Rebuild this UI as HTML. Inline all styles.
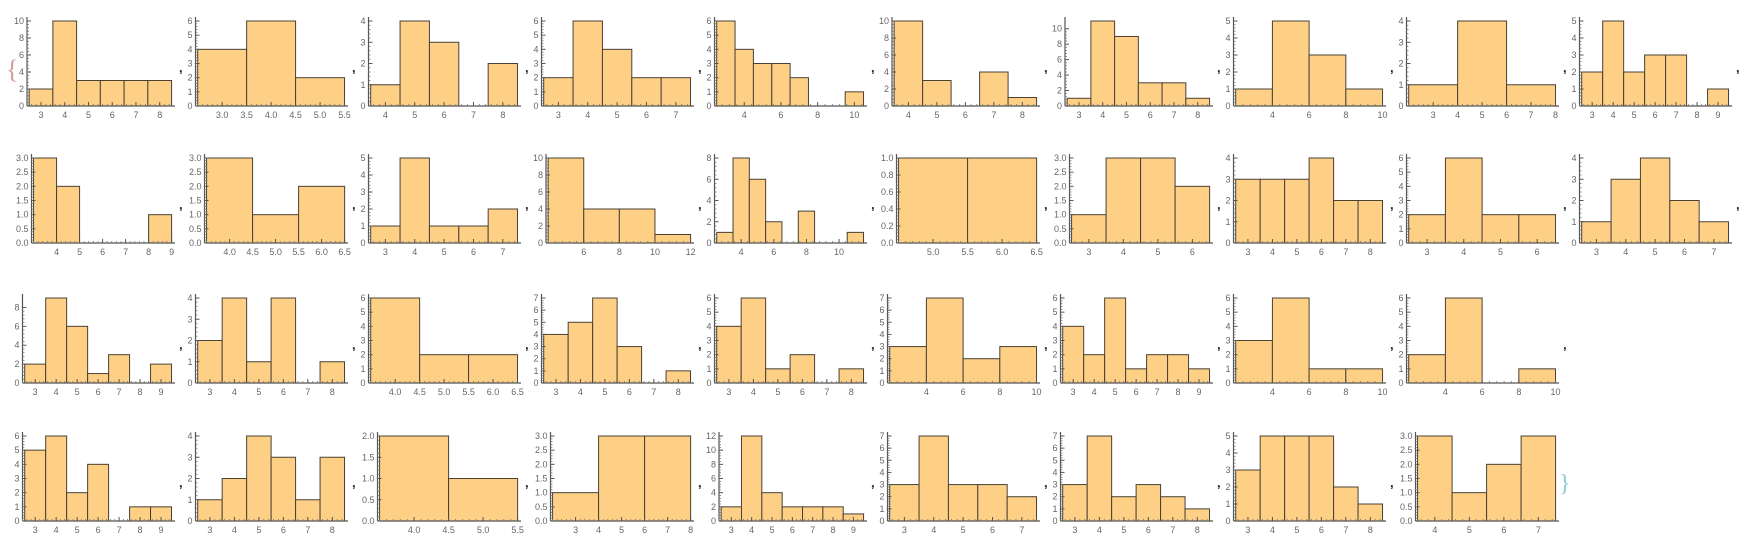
<!DOCTYPE html>
<html><head><meta charset="utf-8">
<style>
html,body{margin:0;padding:0;background:#fff;}
svg{display:block;font-family:"Liberation Sans",sans-serif;}
</style></head>
<body>
<svg id="chart" width="1763" height="551" viewBox="0 0 1763 551" xmlns="http://www.w3.org/2000/svg">
<text x="6" y="78" font-size="26" fill="#d49a9a" font-family="Liberation Serif, serif">{</text>
<text x="1559" y="491" font-size="24" fill="#8fc8dc" font-family="Liberation Serif, serif">}</text>
</svg>
<script>
const binEdges = [
[2.5,3.5,4.5,5.5,6.5,7.5,8.5],[2.5,3.5,4.5,5.5],[3.5,4.5,5.5,6.5,7.5,8.5],[2.5,3.5,4.5,5.5,6.5,7.5],[2.5,3.5,4.5,5.5,6.5,7.5,8.5,9.5,10.5],
[3.5,4.5,5.5,6.5,7.5,8.5],[2.5,3.5,4.5,5.5,6.5,7.5,8.5],[2,4,6,8,10],[2,4,6,8],[2.5,3.5,4.5,5.5,6.5,7.5,8.5,9.5],
[3,4,5,6,7,8,9],[3.5,4.5,5.5,6.5],[2.5,3.5,4.5,5.5,6.5,7.5],[4,6,8,10,12],[2.5,3.5,4.5,5.5,6.5,7.5,8.5,9.5,10.5,11.5],
[4.5,5.5,6.5],[2.5,3.5,4.5,5.5,6.5],[2.5,3.5,4.5,5.5,6.5,7.5,8.5],[2.5,3.5,4.5,5.5,6.5],[2.5,3.5,4.5,5.5,6.5,7.5],
[2.5,3.5,4.5,5.5,6.5,7.5,8.5,9.5],[2.5,3.5,4.5,5.5,6.5,7.5,8.5],[3.5,4.5,5.5,6.5],[2.5,3.5,4.5,5.5,6.5,7.5,8.5],[2.5,3.5,4.5,5.5,6.5,7.5,8.5],
[2,4,6,8,10],[2.5,3.5,4.5,5.5,6.5,7.5,8.5,9.5],[2,4,6,8,10],[2,4,6,8,10],
[2.5,3.5,4.5,5.5,6.5,7.5,8.5,9.5],[2.5,3.5,4.5,5.5,6.5,7.5,8.5],[3.5,4.5,5.5],[2,4,6,8],[2.5,3.5,4.5,5.5,6.5,7.5,8.5,9.5],
[2.5,3.5,4.5,5.5,6.5,7.5],[2.5,3.5,4.5,5.5,6.5,7.5,8.5],[2.5,3.5,4.5,5.5,6.5,7.5,8.5],[3.5,4.5,5.5,6.5,7.5]
];
const binCounts = [
[2,10,3,3,3,3],[4,6,2],[1,4,3,0,2],[2,6,4,2,2],[6,4,3,3,2,0,0,1],
[10,3,0,4,1],[1,11,9,3,3,1],[1,5,3,1],[1,4,1],[2,5,2,3,3,0,1],
[3,2,0,0,0,1],[3,1,2],[1,5,1,1,2],[10,4,4,1],[1,8,6,2,0,3,0,0,1],
[1,1],[1,3,3,2],[3,3,3,4,2,2],[2,6,2,2],[1,3,4,2,1],
[2,9,6,1,3,0,2],[2,4,1,4,0,1],[6,2,2],[4,5,7,3,0,1],[4,6,1,2,0,1],
[3,7,2,3],[4,2,6,1,2,2,1],[3,6,1,1],[2,6,0,1],
[5,6,2,4,0,1,1],[1,2,4,3,1,3],[2,1],[1,3,3],[2,12,4,2,2,2,1],
[3,7,3,3,2],[3,7,2,3,2,1],[3,5,5,5,2,1],[3,1,2,3]
];
const xTickLabels = [
["3","4","5","6","7","8"],["3.0","3.5","4.0","4.5","5.0","5.5"],["4","5","6","7","8"],["3","4","5","6","7"],["4","6","8","10"],
["4","5","6","7","8"],["3","4","5","6","7","8"],["4","6","8","10"],["3","4","5","6","7","8"],["3","4","5","6","7","8","9"],
["4","5","6","7","8","9"],["4.0","4.5","5.0","5.5","6.0","6.5"],["3","4","5","6","7"],["6","8","10","12"],["4","6","8","10"],
["5.0","5.5","6.0","6.5"],["3","4","5","6"],["3","4","5","6","7","8"],["3","4","5","6"],["3","4","5","6","7"],
["3","4","5","6","7","8","9"],["3","4","5","6","7","8"],["4.0","4.5","5.0","5.5","6.0","6.5"],["3","4","5","6","7","8"],["3","4","5","6","7","8"],
["4","6","8","10"],["3","4","5","6","7","8","9"],["4","6","8","10"],["4","6","8","10"],
["3","4","5","6","7","8","9"],["3","4","5","6","7","8"],["4.0","4.5","5.0","5.5"],["3","4","5","6","7","8"],["3","4","5","6","7","8","9"],
["3","4","5","6","7"],["3","4","5","6","7","8"],["3","4","5","6","7","8"],["4","5","6","7"]
];
const yTickLabels = [
["0","2","4","6","8","10"],["0","1","2","3","4","5","6"],["0","1","2","3","4"],["0","1","2","3","4","5","6"],["0","1","2","3","4","5","6"],
["0","2","4","6","8","10"],["0","2","4","6","8","10"],["0","1","2","3","4","5"],["0","1","2","3","4"],["0","1","2","3","4","5"],
["0.0","0.5","1.0","1.5","2.0","2.5","3.0"],["0.0","0.5","1.0","1.5","2.0","2.5","3.0"],["0","1","2","3","4","5"],["0","2","4","6","8","10"],["0","2","4","6","8"],
["0.0","0.2","0.4","0.6","0.8","1.0"],["0.0","0.5","1.0","1.5","2.0","2.5","3.0"],["0","1","2","3","4"],["0","1","2","3","4","5","6"],["0","1","2","3","4"],
["0","2","4","6","8"],["0","1","2","3","4"],["0","1","2","3","4","5","6"],["0","1","2","3","4","5","6","7"],["0","1","2","3","4","5","6"],
["0","1","2","3","4","5","6","7"],["0","1","2","3","4","5","6"],["0","1","2","3","4","5","6"],["0","1","2","3","4","5","6"],
["0","1","2","3","4","5","6"],["0","1","2","3","4"],["0.0","0.5","1.0","1.5","2.0"],["0.0","0.5","1.0","1.5","2.0","2.5","3.0"],["0","2","4","6","8","10","12"],
["0","1","2","3","4","5","6","7"],["0","1","2","3","4","5","6","7"],["0","1","2","3","4","5"],["0.0","0.5","1.0","1.5","2.0","2.5","3.0"]
];
const rowStarts = [0,10,20,29];
const rowAxisY = [106,243,383,521];

const NS = "http://www.w3.org/2000/svg";
const svg = document.getElementById("chart");
function mk(tag, attrs, parent){
  const e = document.createElementNS(NS, tag);
  for (const k in attrs) e.setAttribute(k, attrs[k]);
  (parent||svg).appendChild(e);
  return e;
}
for (let p = 0; p < binCounts.length; p++){
  let r = 0; for (let k=0;k<rowStarts.length;k++) if (p>=rowStarts[k]) r=k;
  const c = p - rowStarts[r];
  const edges = binEdges[p], counts = binCounts[p];
  const yl = yTickLabels[p], xl = xTickLabels[p];
  const slot = 8 + c*173;
  const maxChars = Math.max(...yl.map(s=>s.length));
  const left = slot + 10 + 4.5*maxChars;
  const right = slot + 165;
  const base = rowAxisY[r];
  const H = 85;
  const span = edges[edges.length-1]-edges[0];
  const xMin = edges[0]-0.015*span, xMax = edges[edges.length-1]+0.01*span;
  const xs = v => left + (v-xMin)/(xMax-xMin)*(right-left);
  const yMaxVal = Math.max(...counts);
  const ys = v => base - v/yMaxVal*H;
  const g = mk("g", {});
  
  
  for (let i=0;i<counts.length;i++){
    if (counts[i] <= 0) continue;
    const b = mk("rect", {x:xs(edges[i]), y:ys(counts[i]), width:xs(edges[i+1])-xs(edges[i]), height:base-ys(counts[i]), fill:"#fdd085", stroke:"#4a4036", "stroke-width":"1"}, g);
    
    
  }
  // axes
  const ax = mk("line",{x1:left,y1:base,x2:right+2,y2:base,stroke:"#555","stroke-width":"1.2"},g);
  
  
  const ay = mk("line",{x1:left,y1:base,x2:left,y2:base-H-4,stroke:"#555","stroke-width":"1.2"},g);
  
  
  // y ticks
  const yv = yl.map(parseFloat);
  for (let i=0;i<yv.length;i++){
    const y = ys(yv[i]);
    mk("line",{x1:left,y1:y,x2:left+4,y2:y,stroke:"#555","stroke-width":"1"},g);
    const t = mk("text",{x:left-3,y:y+3,"font-size":"9","text-anchor":"end",fill:"#666"},g);
    t.textContent = yl[i];
    
    
    if (i<yv.length-1){
      for (let m=1;m<5;m++){
        const ym = ys(yv[i]+(yv[i+1]-yv[i])*m/5);
        mk("line",{x1:left,y1:ym,x2:left+2,y2:ym,stroke:"#777","stroke-width":"0.8"},g);
      }
    }
  }
  // x ticks
  const xv = xl.map(parseFloat);
  const step = xv.length>1 ? xv[1]-xv[0] : 1;
  for (let v = xv[0]-step; v <= xMax; v += step/5){
    const x = xs(v); if (x<left||x>right) continue;
    mk("line",{x1:x,y1:base,x2:x,y2:base-2,stroke:"#777","stroke-width":"0.8"},g);
  }
  for (let i=0;i<xv.length;i++){
    const x = xs(xv[i]);
    mk("line",{x1:x,y1:base,x2:x,y2:base-4,stroke:"#555","stroke-width":"1"},g);
    const t = mk("text",{x:x,y:base+12,"font-size":"9","text-anchor":"middle",fill:"#666"},g);
    t.textContent = xl[i];
    
    
  }
  if (p !== binCounts.length-1){
    const cm = mk("text",{x:right+6,y:base-34,"font-size":"13","font-weight":"bold",fill:"#222"},g);
    cm.textContent = ",";
    
    
  }
}
</script>
</body></html>
